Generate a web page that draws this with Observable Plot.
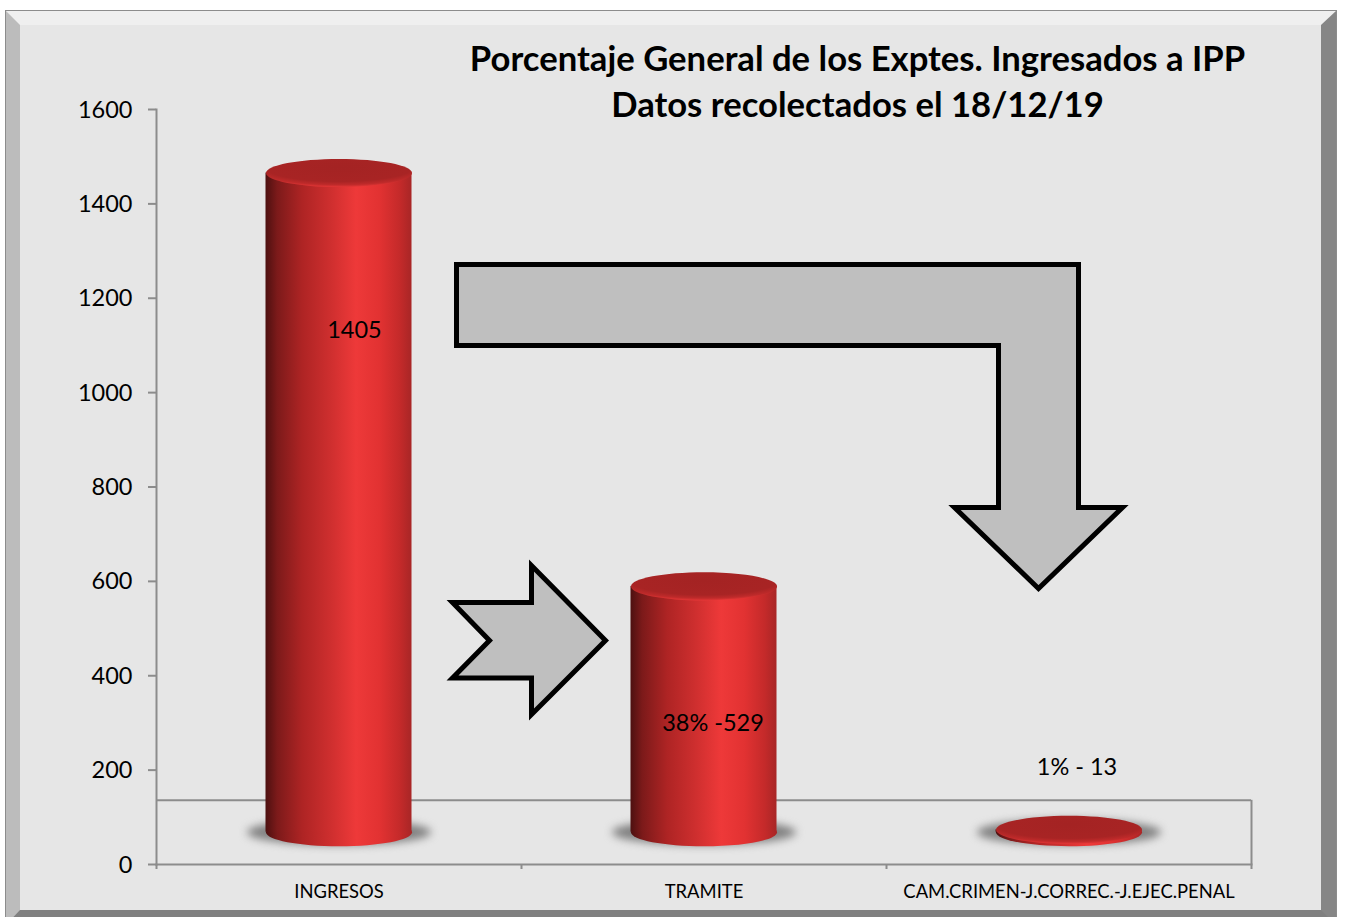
<!DOCTYPE html>
<html lang="es">
<head>
<meta charset="utf-8">
<title>Porcentaje General de los Exptes. Ingresados a IPP</title>
<script src="https://cdn.jsdelivr.net/npm/d3@7"></script>
<script src="https://cdn.jsdelivr.net/npm/@observablehq/plot@0.6"></script>
<style>
  html, body { margin: 0; padding: 0; background: #fff; overflow: hidden; }
  #page { position: relative; width: 1345px; height: 917px; overflow: hidden; }
  #bevel {
    position: absolute; left: 5px; top: 10px; box-sizing: border-box;
    width: 1332px; height: 916px; background: #e6e6e6;
    border-style: solid; border-width: 15px 16px 16px 15px;
    border-color: #efefef #868686 #808080 #bcbcbc;
    outline: 1px solid #8c8c8c; outline-offset: -1px;
  }
  #chart { position: absolute; left: 0; top: 0; }
  #chart svg { display: block; background: transparent; }
</style>
</head>
<body>
<div id="page"><div id="bevel"></div><div id="chart"></div></div>
<script>
const categories = ["INGRESOS", "TRAMITE", "CAM.CRIMEN-J.CORREC.-J.EJEC.PENAL"];
const values = [1405, 529, 13];
const valueLabels = ["1405", "38% -529", "1% - 13"];
const yTicks = [0, 200, 400, 600, 800, 1000, 1200, 1400, 1600];
const titleLines = ["Porcentaje General de los Exptes. Ingresados a IPP", "Datos recolectados el 18/12/19"];

const rows = categories.map((category, i) => ({category, value: values[i], label: valueLabels[i]}));

// Chart furniture of the 3-D style (not data)
const FLOOR = 136, BASE = 8, LIFT = -28.5, HALF_BAND = 182.5;
const labelPlace = {
  [valueLabels[0]]: {y: 1132, dx: 15.5},
  [valueLabels[1]]: {y: 299, dx: 9},
  [valueLabels[2]]: {y: 206, dx: 8}
};
const arrowRight = [[452,602],[531,602],[531,565],[605,640],[531,714],[531,677.5],[452,677.5],[489,640],[452,602],[531,602]];
const arrowDown = [[456,264],[1078,264],[1078,507],[1122,507],[1038,588],[954,507],[998,507],[998,345],[456,345],[456,264],[1078,264]];

const ellipse = ratio => ({
  draw(c, size) {
    const rx = Math.sqrt(size / Math.PI), ry = rx * ratio, k = 0.5523;
    c.moveTo(rx, 0);
    c.bezierCurveTo(rx, ry * k, rx * k, ry, 0, ry);
    c.bezierCurveTo(-rx * k, ry, -rx, ry * k, -rx, 0);
    c.bezierCurveTo(-rx, -ry * k, -rx * k, -ry, 0, -ry);
    c.bezierCurveTo(rx * k, -ry, rx, -ry * k, rx, 0);
    c.closePath();
  }
});

const GREY = "#8c8c8c", FONT = "Lato, sans-serif";
const arrow = pts => Plot.line(pts, {
  x: {value: d => d[0], scale: null}, y: {value: d => d[1], scale: null},
  dx: -HALF_BAND,
  fill: "#bfbfbf", stroke: "#000", strokeWidth: 5,
  strokeLinejoin: "miter", strokeMiterlimit: 10, strokeLinecap: "butt"
});

const plot = Plot.plot({
  width: 1345, height: 917,
  marginLeft: 156, marginRight: 94, marginTop: 109, marginBottom: 53,
  style: {background: "transparent", fontFamily: FONT, color: "#000"},
  x: {domain: categories, padding: 0, label: null},
  y: {domain: [0, 1600], label: null},
  marks: [
    Plot.ruleY([FLOOR], {stroke: GREY, strokeWidth: 2}),
    Plot.ruleX([categories[2]], {dx: HALF_BAND, y1: 0, y2: FLOOR, stroke: GREY, strokeWidth: 2}),
    Plot.frame({anchor: "left", stroke: GREY, strokeWidth: 2}),
    Plot.frame({anchor: "bottom", stroke: GREY, strokeWidth: 2}),
    Plot.axisY({ticks: yTicks, tickSize: 8, text: null, stroke: GREY, strokeWidth: 2, label: null}),
    Plot.axisY({ticks: yTicks, tickSize: 0, tickPadding: 24, dy: 0.5, tickFormat: d => String(d), fontSize: 23.5, fill: "#000", label: null}),
    Plot.axisX({ticks: categories, dx: -HALF_BAND, tickSize: 5, text: null, stroke: GREY, strokeWidth: 2, label: null}),
    Plot.axisX({ticks: [categories[2]], dx: HALF_BAND, tickSize: 5, text: null, stroke: GREY, strokeWidth: 2, label: null}),
    Plot.axisX({ticks: categories, tickSize: 0, tickPadding: 20, fontSize: 18.4, fill: "#000", label: null}),

    Plot.dot(rows, {x: "category", y: BASE, dy: LIFT, r: 92, symbol: ellipse(0.14), fill: "#808080", imageFilter: "blur(4px)"}),
    Plot.dot(rows, {x: "category", y: BASE, dy: LIFT, r: 73, symbol: ellipse(0.192), fill: "url(#side)"}),
    Plot.barY(rows, {x: "category", y1: BASE, y2: "value", dy: LIFT, insetLeft: 109.5, insetRight: 109.5, fill: "url(#side)"}),
    Plot.dot(rows, {x: "category", y: "value", dy: LIFT, r: 73, symbol: ellipse(0.192), fill: "url(#cap)"}),

    arrow(arrowDown),
    arrow(arrowRight),

    ...rows.map(r => Plot.text([r], {x: "category", y: labelPlace[r.label].y, dx: labelPlace[r.label].dx, text: "label", fontSize: 23.5, fill: "#000"})),

    Plot.text([titleLines.join("\n")], {frameAnchor: "top", dx: 153.5, dy: -30.5, lineAnchor: "middle", lineHeight: 1.328, fontSize: 34.65, fontWeight: 700, fill: "#000"})
  ]
});

// Gradients used by the cylinder marks
const NS = "http://www.w3.org/2000/svg";
const defs = document.createElementNS(NS, "defs");
function gradient(kind, id, attrs, stops) {
  const g = document.createElementNS(NS, kind);
  g.setAttribute("id", id);
  for (const k in attrs) g.setAttribute(k, attrs[k]);
  for (const [offset, color] of stops) {
    const s = document.createElementNS(NS, "stop");
    s.setAttribute("offset", offset);
    s.setAttribute("stop-color", color);
    g.appendChild(s);
  }
  defs.appendChild(g);
}
gradient("linearGradient", "side", {x1: 0, x2: 1, y1: 0, y2: 0}, [
  [0, "#4d1010"], [0.08, "#7c1a1a"], [0.25, "#ae2424"], [0.45, "#cf2f2f"],
  [0.62, "#ee3939"], [0.78, "#e23232"], [0.92, "#c42a2a"], [1, "#a82626"]
]);
gradient("radialGradient", "cap", {cx: 0.5, cy: 0.3, r: 0.72}, [
  [0, "#a42323"], [0.7, "#a82424"], [0.86, "#bf2a2a"], [1, "#ec3939"]
]);
plot.insertBefore(defs, plot.firstChild);
document.getElementById("chart").appendChild(plot);
</script>
</body>
</html>
